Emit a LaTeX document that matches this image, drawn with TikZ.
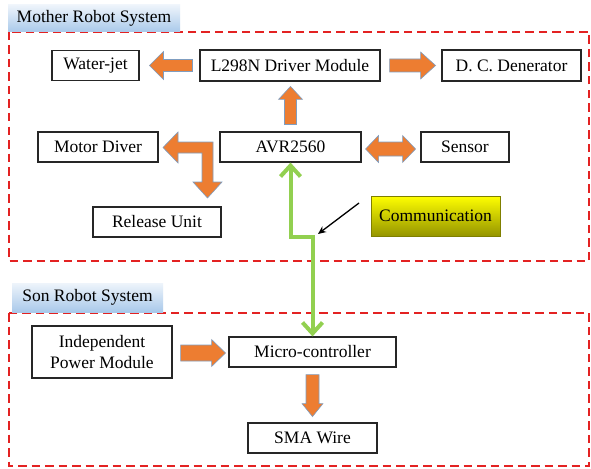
\documentclass[tikz,border=0pt]{standalone}
\usepackage{fontspec}
\setmainfont{Liberation Serif}
\usetikzlibrary{calc,arrows.meta}
\definecolor{orng}{HTML}{ED7D31}
\definecolor{orngline}{HTML}{7F9DC0}
\definecolor{dred}{HTML}{E32222}
\definecolor{grn}{HTML}{92D050}
\definecolor{lblA}{HTML}{EEF4FB}
\definecolor{lblB}{HTML}{A9C9EA}
\definecolor{yelA}{HTML}{FFFF00}
\definecolor{yelB}{HTML}{959500}
\tikzset{
  box/.style={draw=black!85, line width=1.1pt, fill=white, inner sep=0pt, align=center,
    font=\fontsize{17.5}{19.5}\selectfont},
  lbl/.style={inner sep=0pt, top color=lblA, bottom color=lblB,
    font=\fontsize{17.5}{19}\selectfont},
  region/.style={draw=dred, line width=1.5pt, dash pattern=on 8.5pt off 5pt},
  blk/.style={fill=orng, draw=orngline, line width=0.6pt},
  pics/barr/.style n args={4}{code={
    \filldraw[blk] (0,-#2) -- ({#1-#4},-#2) -- ({#1-#4},-#3) -- (#1,0) -- ({#1-#4},#3) -- ({#1-#4},#2) -- (0,#2) -- cycle;}},
  pics/dbarr/.style n args={4}{code={
    \filldraw[blk] (#4,-#2) -- ({#1-#4},-#2) -- ({#1-#4},-#3) -- (#1,0) -- ({#1-#4},#3) -- ({#1-#4},#2)
      -- (#4,#2) -- (#4,#3) -- (0,0) -- (#4,-#3) -- cycle;}},
  comm/.style={draw=grn, line width=4pt, arrows={Straight Barb[length=11pt, width=20pt]-Straight Barb[length=11pt, width=20pt]}}
}
\begin{document}
\begin{tikzpicture}[x=1pt, y=-1pt]
\useasboundingbox[fill=white] (0,0) rectangle (591,468);
% regions
\draw[region] (9,32) rectangle (589,261);
\draw[region] (9,313) rectangle (589,466);
\node[lbl, minimum width=172pt, minimum height=27pt] (mlbl) at (94,18.5) {Mother Robot System};
\node[lbl, minimum width=151pt, minimum height=29pt] (slbl) at (87.5,297.5) {Son Robot System};
% nodes
\node[box, minimum width=87pt,  minimum height=30pt] (WJ)  at (95.5,65.5) {Water-jet};
\node[box, minimum width=180pt, minimum height=31pt] (L)   at (290,65.5) {L298N Driver Module};
\node[box, minimum width=139pt, minimum height=31pt] (DC)  at (511.5,65.5) {D. C. Denerator};
\node[box, minimum width=120pt, minimum height=30pt] (MD)  at (98,147) {Motor Diver};
\node[box, minimum width=141pt, minimum height=30pt] (AVR) at (290.5,147) {AVR2560};
\node[box, minimum width=88pt,  minimum height=30pt] (SE)  at (465,147) {Sensor};
\node[box, minimum width=128pt, minimum height=30pt] (RU)  at (157,222) {Release Unit};
\node[box, minimum width=140pt, minimum height=52pt] (IP)  at (102,352) {Independent\\[1pt]Power Module};
\node[box, minimum width=167pt, minimum height=30pt] (MC)  at (312.5,352) {Micro-controller};
\node[box, minimum width=129pt, minimum height=30pt] (SMA) at (312.5,438) {SMA Wire};
\node[draw=yelB!85!black, line width=0.5pt, top color=yelA, bottom color=yelB,
      minimum width=129pt, minimum height=40pt, inner sep=0pt,
      font=\fontsize{17.5}{19.5}\selectfont] (CM) at (435.5,216) {Communication};
% block arrows
\pic[rotate=180] at ($(L.west)+(-7,0)$) {barr={43}{6}{14}{14}};
\pic at ($(L.east)+(9,0)$) {barr={46}{6.5}{13.5}{15}};
\pic[rotate=90] at ($(AVR.north)+(0,-7)$) {barr={38}{6}{12}{13}};
\pic at ($(AVR.east)+(4,2)$) {dbarr={50}{7}{13.5}{13}};
\pic at ($(IP.east)+(8,1)$) {barr={45}{8}{13.5}{14}};
\pic[rotate=-90] at ($(MC.south)+(0,7)$) {barr={42}{6.5}{10.5}{13}};
% elbow arrow AVR -> Motor Diver / Release Unit
\filldraw[blk] (213,142) -- (213,182) -- (222,182) -- (207.5,198) -- (193,182) -- (202,182)
  -- (202,153) -- (178,153) -- (178,163) -- (163,147.5) -- (178,132) -- (178,142) -- cycle;
% communication link
\coordinate (cb) at ($(MC.north |- 0,237)$);
\draw[comm] (AVR.south) |- (cb) -- (MC.north);
\coordinate (cs) at (359,203);
\coordinate (ce) at (318,234);
\draw[line width=1.3pt, -{Stealth[length=8pt, width=7pt]}] (cs) -- (ce);
\end{tikzpicture}
\end{document}
